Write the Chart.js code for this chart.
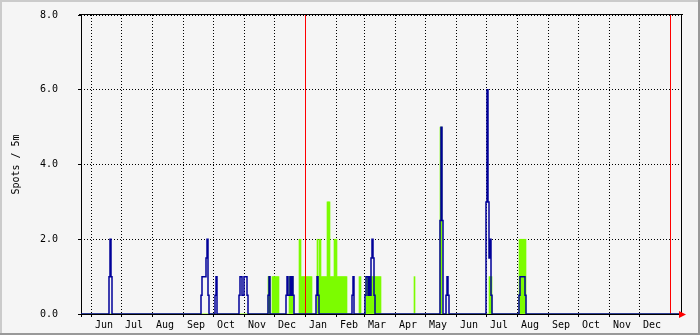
<!DOCTYPE html>
<html>
<head>
<meta charset="utf-8">
<title>Spots / 5m</title>
<script src="https://cdn.jsdelivr.net/npm/chart.js@4.4.1/dist/chart.umd.min.js"></script>
<style>
  html, body { margin: 0; padding: 0; background: #f5f5f5; }
  canvas { display: block; }
</style>
</head>
<body>
<canvas id="spotsChart" width="700" height="335"></canvas>
<script>
// x values are days counted from the left edge of the graph
var totalDays = 600;
var monthLabels = ['Jun', 'Jul', 'Aug', 'Sep', 'Oct', 'Nov', 'Dec', 'Jan', 'Feb', 'Mar', 'Apr', 'May',
                   'Jun', 'Jul', 'Aug', 'Sep', 'Oct', 'Nov', 'Dec'];
var monthStarts = [10, 40, 71, 102, 132, 163, 193, 224, 255, 283, 314, 344,
                   375, 405, 436, 467, 497, 528, 558];
var yearStarts = [224, 589];
var yTicks = [0, 2, 4, 6, 8];

// blue line, one value per day
var avgDays = [28, 29, 30,
               120, 121, 122, 123, 124, 125, 126, 127,
               134, 135,
               158, 159, 160, 161, 162, 163, 164, 165, 166,
               187, 188,
               205, 206, 207, 208, 209, 210, 211, 212,
               235, 236, 237,
               271, 272,
               284, 285, 286, 287, 288, 289, 290, 291, 292, 293,
               359, 360, 361,
               365, 366, 367,
               405, 406, 407, 408, 409, 410,
               438, 439, 440, 441, 442, 443, 444];
var avgVals = [1, 2, 1,
               0.5, 1, 1, 1, 1, 1.5, 2, 0.5,
               0.5, 1,
               0.5, 1, 1, 0.5, 0.5, 1, 1, 1, 0.5,
               0.5, 1,
               0.5, 1, 0.5, 0.5, 1, 0.5, 1, 0.5,
               0.5, 1, 0.5,
               0.5, 1,
               0.5, 1, 1, 0.5, 1, 0.5, 1.5, 2, 1.5, 0.5,
               2.5, 5, 2.5,
               0.5, 1, 0.5,
               3, 6, 3, 1.5, 2, 0.5,
               0.5, 1, 1, 1, 1, 1, 0.5];

// green area, runs of days (from..to inclusive)
var maxFrom = [187, 191, 208, 218, 220, 236, 237, 238, 240, 246, 249, 253, 256, 278, 285, 333, 359, 408, 438];
var maxTo   = [188, 197, 211, 219, 230, 236, 237, 239, 245, 248, 252, 255, 265, 279, 299, 333, 360, 410, 444];
var maxVals = [1,   1,   1,   2,   1,   2,   1,   2,   1,   3,   1,   2,   1,   1,   1,   1,   5,   1,   2];

function emptyDays(n) {
  var a = [];
  for (var d = 0; d < n; d++) a.push(0);
  return a;
}

var avgSeries = emptyDays(totalDays + 1);
avgDays.forEach(function (d, i) { avgSeries[d] = avgVals[i]; });

var maxSeries = emptyDays(totalDays);
maxFrom.forEach(function (from, i) {
  for (var d = from; d <= maxTo[i]; d++) maxSeries[d] = maxVals[i];
});

Chart.defaults.font.family = "'DejaVu Sans Mono', monospace";
Chart.defaults.font.size = 10;
Chart.defaults.color = '#000';

function noPadding(scale) {
  scale.paddingTop = 0;
  scale.paddingBottom = 0;
  scale.paddingLeft = 0;
  scale.paddingRight = 0;
}

var rrdLook = {
  id: 'rrdLook',
  beforeDraw: function (chart) {
    var ctx = chart.ctx, w = chart.width, h = chart.height;
    ctx.save();
    ctx.fillStyle = '#f5f5f5';
    ctx.fillRect(0, 0, w, h);
    ctx.fillStyle = '#cbcbcb';
    ctx.fillRect(0, 0, w, 2);
    ctx.fillRect(0, 0, 2, h);
    ctx.fillStyle = '#999999';
    ctx.fillRect(0, h - 2, w, 2);
    ctx.fillRect(w - 2, 0, 2, h);
    ctx.restore();
  },
  beforeDatasetsDraw: function (chart) {
    var a = chart.chartArea, ctx = chart.ctx;
    ctx.save();
    ctx.strokeStyle = '#000';
    ctx.lineWidth = 1;
    ctx.beginPath();
    ctx.moveTo(a.left - 2, a.top - 0.5);
    ctx.lineTo(a.right + 2, a.top - 0.5);
    ctx.moveTo(a.left + 0.5, a.top - 0.5);
    ctx.lineTo(a.left + 0.5, a.bottom + 3);
    ctx.moveTo(a.right + 0.5, a.top - 0.5);
    ctx.lineTo(a.right + 0.5, a.bottom);
    ctx.moveTo(a.left, a.bottom + 0.5);
    ctx.lineTo(a.right, a.bottom + 0.5);
    ctx.stroke();
    ctx.restore();
  },
  afterDatasetDraw: function (chart, args) {
    if (args.index !== 1) return;
    var a = chart.chartArea, ctx = chart.ctx, x = chart.scales.x;
    ctx.save();
    ctx.strokeStyle = '#ff0000';
    ctx.lineWidth = 1;
    yearStarts.forEach(function (d) {
      var px = Math.round(x.getPixelForValue(d)) + 0.5;
      ctx.beginPath();
      ctx.moveTo(px, a.top);
      ctx.lineTo(px, a.bottom);
      ctx.stroke();
    });
    ctx.restore();
  },
  afterDraw: function (chart) {
    var a = chart.chartArea, ctx = chart.ctx;
    ctx.save();
    ctx.fillStyle = '#ff0000';
    ctx.beginPath();
    ctx.moveTo(a.right - 2, a.bottom - 3);
    ctx.lineTo(a.right + 5, a.bottom + 0.5);
    ctx.lineTo(a.right - 2, a.bottom + 4);
    ctx.closePath();
    ctx.fill();
    ctx.restore();
  }
};

new Chart(document.getElementById('spotsChart'), {
  type: 'line',
  data: {
    datasets: [{
      label: 'avg',
      data: avgSeries.map(function (v, d) { return { x: d, y: v }; }),
      stepped: true,
      borderColor: '#000099',
      borderWidth: 1.5,
      pointRadius: 0,
      fill: false
    }, {
      type: 'bar',
      label: 'max',
      // each day covers [d, d + 1]
      data: maxSeries.map(function (v, d) { return { x: d + 0.5, y: v }; }),
      backgroundColor: '#7cfc00',
      borderWidth: 0,
      barPercentage: 1,
      categoryPercentage: 1
    }]
  },
  options: {
    responsive: false,
    animation: false,
    devicePixelRatio: 1,
    layout: { padding: { top: 15, right: 19, left: 0, bottom: 0 } },
    plugins: { legend: { display: false }, tooltip: { enabled: false } },
    scales: {
      x: {
        type: 'linear',
        position: 'bottom',
        offset: false,
        min: 0,
        max: totalDays,
        afterBuildTicks: function (scale) {
          scale.ticks = monthStarts.map(function (d) { return { value: d }; });
        },
        afterFit: function (scale) { scale.height = 21; noPadding(scale); },
        ticks: {
          autoSkip: false,
          maxRotation: 0,
          padding: 2,
          labelOffset: 13,
          callback: function (v, i) { return monthLabels[i]; }
        },
        grid: { offset: false, color: '#000', lineWidth: 1, tickLength: 3, tickColor: '#000', tickBorderDash: [] },
        border: { display: false, dash: [1, 2] }
      },
      y: {
        type: 'linear',
        position: 'left',
        min: 0,
        max: 8,
        afterBuildTicks: function (scale) {
          scale.ticks = yTicks.map(function (v) { return { value: v }; });
        },
        afterFit: function (scale) { scale.width = 81; noPadding(scale); },
        ticks: {
          padding: 20,
          callback: function (v) { return v.toFixed(1); }
        },
        grid: { color: '#000', lineWidth: 1, tickLength: 3, tickColor: '#000', tickBorderDash: [] },
        border: { display: false, dash: [1, 2] },
        title: {
          display: true,
          text: 'Spots / 5m',
          padding: { top: 10, bottom: 0 },
          font: { size: 10 }
        }
      }
    }
  },
  plugins: [rrdLook]
});
</script>
</body>
</html>
